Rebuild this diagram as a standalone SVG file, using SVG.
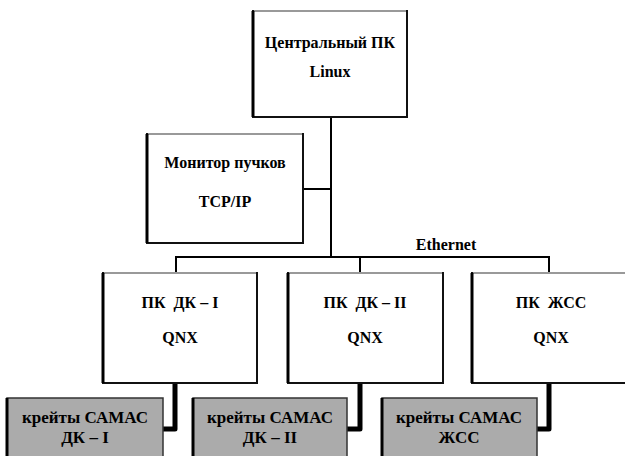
<svg xmlns="http://www.w3.org/2000/svg" width="625" height="456" viewBox="0 0 625 456">
<style>
.box{fill:#fff;stroke:#111;stroke-width:2}
.gbox{fill:#ababab;stroke:#333;stroke-width:1.5}
.top{stroke:#999;stroke-width:2}
.edge{stroke:#000;stroke-width:3}
.ln{fill:none;stroke:#000;stroke-width:2}
.thick{fill:none;stroke:#000;stroke-width:5;stroke-linejoin:round}
</style>
<rect width="625" height="456" fill="#fff"/>
<g id="connectors">
<path class="ln" d="M331,117 V257"/>
<path class="ln" d="M303,189 H331"/>
<path class="ln" d="M176,273 V257 H549 V273"/>
<path class="ln" d="M360,257 V273"/>
<path class="thick" d="M175,383 V429 H163"/>
<path class="thick" d="M360,383 V429 H347"/>
<path class="thick" d="M549,383 V429 H537"/>
<text x="446" y="250" font-family="Liberation Serif" font-weight="bold" font-size="16" text-anchor="middle">Ethernet</text>
</g>
<g id="central">
<rect class="box" x="253" y="11" width="154" height="106"/>
<line class="top" x1="254" y1="11" x2="406" y2="11"/>
<line class="edge" x1="253" y1="11" x2="253" y2="117"/>
<text x="330" y="48" font-family="Liberation Serif" font-weight="bold" font-size="16" text-anchor="middle">Центральный ПК</text>
<text x="330" y="77" font-family="Liberation Serif" font-weight="bold" font-size="16" text-anchor="middle">Linux</text>
</g>
<g id="monitor">
<rect class="box" x="147" y="134" width="156" height="109"/>
<line class="top" x1="148" y1="134" x2="302" y2="134"/>
<line class="edge" x1="147" y1="134" x2="147" y2="243"/>
<text x="225" y="168" font-family="Liberation Serif" font-weight="bold" font-size="16" text-anchor="middle">Монитор пучков</text>
<text x="225" y="207" font-family="Liberation Serif" font-weight="bold" font-size="16" text-anchor="middle">TCP/IP</text>
</g>
<g id="pc1">
<rect class="box" x="103" y="273" width="154" height="110"/>
<line class="top" x1="104" y1="273" x2="256" y2="273"/>
<line class="edge" x1="103" y1="273" x2="103" y2="383"/>
<text x="180" y="308" font-family="Liberation Serif" font-weight="bold" font-size="16" text-anchor="middle" xml:space="preserve">ПК  ДК – I</text>
<text x="180" y="343" font-family="Liberation Serif" font-weight="bold" font-size="16" text-anchor="middle">QNX</text>
</g>
<g id="pc2">
<rect class="box" x="288" y="273" width="155" height="110"/>
<line class="top" x1="289" y1="273" x2="442" y2="273"/>
<line class="edge" x1="288" y1="273" x2="288" y2="383"/>
<text x="365" y="308" font-family="Liberation Serif" font-weight="bold" font-size="16" text-anchor="middle" xml:space="preserve">ПК  ДК – II</text>
<text x="365" y="343" font-family="Liberation Serif" font-weight="bold" font-size="16" text-anchor="middle">QNX</text>
</g>
<g id="pc3">
<rect class="box" x="472" y="273" width="160" height="110"/>
<line class="top" x1="473" y1="273" x2="625" y2="273"/>
<line class="edge" x1="472" y1="273" x2="472" y2="383"/>
<text x="551" y="308" font-family="Liberation Serif" font-weight="bold" font-size="16" text-anchor="middle" xml:space="preserve">ПК  ЖСС</text>
<text x="551" y="343" font-family="Liberation Serif" font-weight="bold" font-size="16" text-anchor="middle">QNX</text>
</g>
<g id="camac1">
<rect class="gbox" x="7" y="398" width="156" height="62"/>
<line class="edge" x1="7" y1="398" x2="7" y2="456"/>
<text x="85" y="423" font-family="Liberation Serif" font-weight="bold" font-size="17" text-anchor="middle">крейты САМАС</text>
<text x="85" y="443" font-family="Liberation Serif" font-weight="bold" font-size="17" text-anchor="middle">ДК – I</text>
</g>
<g id="camac2">
<rect class="gbox" x="193" y="398" width="154" height="62"/>
<line class="edge" x1="193" y1="398" x2="193" y2="456"/>
<text x="270" y="423" font-family="Liberation Serif" font-weight="bold" font-size="17" text-anchor="middle">крейты САМАС</text>
<text x="270" y="443" font-family="Liberation Serif" font-weight="bold" font-size="17" text-anchor="middle">ДК – II</text>
</g>
<g id="camac3">
<rect class="gbox" x="382" y="398" width="155" height="62"/>
<line class="edge" x1="382" y1="398" x2="382" y2="456"/>
<text x="459" y="423" font-family="Liberation Serif" font-weight="bold" font-size="17" text-anchor="middle">крейты САМАС</text>
<text x="459" y="443" font-family="Liberation Serif" font-weight="bold" font-size="17" text-anchor="middle">ЖСС</text>
</g>
</svg>
